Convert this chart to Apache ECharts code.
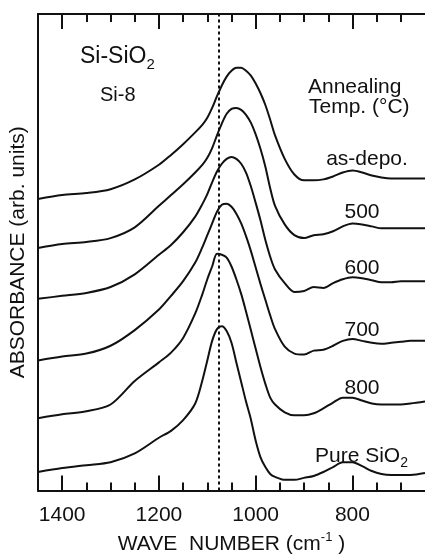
<!DOCTYPE html>
<html><head><meta charset="utf-8">
<script src="https://cdn.jsdelivr.net/npm/echarts@6/dist/echarts.min.js"></script>
<style>html,body{margin:0;padding:0;background:#fff}#c{width:425px;height:560px}</style>
</head><body><div id="c"></div>
<script>
// Wave numbers (cm^-1) at which the spectra were read
const waveNumbers = [1450,1400,1350,1300,1250,1200,1175,1150,1125,1110,1100,1090,1080,1070,1060,1050,1040,1030,1020,1010,1000,990,980,970,960,940,920,900,880,860,840,820,800,780,760,740,720,700,680,650];
// Absorbance (arb. units, stacked with offsets)
const asDepo  = [298,302,304,308,318,333,343,354,366,374,381,391,403,414,423,429,432,432,429,424,416,406,394,379,363,339,323,317,317,318,321,325,327,325,322,320,319,319,319,319];
const ann500  = [248,252,254,258,269,291,302,313,325,333,340,350,363,375,385,390,391,389,384,376,364,349,331,309,291,272,261,258,261,262,265,270,273,272,270,268,268,268,268,268];
const ann600  = [196,199,202,208,221,241,251,264,280,293,303,315,326,334,339,341,339,334,325,311,294,276,256,239,226,212,203,204,208,207,212,216,218,217,215,213,213,214,214,214];
const ann700  = [133,137,140,148,164,185,199,214,233,249,261,273,285,292,293,290,283,273,260,245,228,211,195,179,165,147,140,139,143,144,148,153,155,153,151,150,151,152,153,153];
const ann800  = [74,78,81,88,112,131,141,156,181,201,216,229,242,241,238,229,216,201,183,164,145,126,109,95,88,80,77,77,79,84,90,95,95,92,89,88,88,88,89,91];
const pureSiO2 = [19,23,26,29,38,54,61,72,89,113,133,153,165,168,163,151,131,111,91,73,51,34,24,17,14,11,11,13,15,19,24,29,29,25,20,17,16,16,16,18];
const seriesNames = ['as-depo.','500','600','700','800','Pure SiO2'];
const majorTicks = [1400,1200,1000,800];
const minorTicks = [1350,1300,1250,1150,1100,1050,950,900,850,750,700];
const dottedLineWave = 1077;

const F = '"Liberation Sans", Arial, Helvetica, sans-serif';
const INK = '#111';
const chart = echarts.init(document.getElementById('c'), null, {renderer:'canvas'});
const allSeries = [asDepo, ann500, ann600, ann700, ann800, pureSiO2];

const xBase = {type:'value', min:650, max:1450, inverse:true, splitLine:{show:false}};
const tickMajor = {show:true, inside:true, length:15, customValues:majorTicks, lineStyle:{color:INK, width:2}};
const tickMinor = {show:true, inside:true, length:8, customValues:minorTicks, lineStyle:{color:INK, width:2}};

const series = allSeries.map((arr, k) => ({
  name: seriesNames[k], type:'line', smooth:0.3, showSymbol:false, symbol:'none',
  lineStyle:{color:INK, width:2}, itemStyle:{color:INK},
  data: waveNumbers.map((w,i)=>[w, arr[i]]),
  markLine: k===0 ? {silent:true, symbol:['none','none'], label:{show:false},
    lineStyle:{color:INK, width:2, type:[3,3]}, data:[{xAxis:dottedLineWave}]} : undefined
}));

const txt = (x, y, text, size, align, rich) => ({
  type:'text', x, y, silent:true,
  style:{text, fill:INK, font: size+'px '+F, align: align||'left', verticalAlign:'middle', rich: rich}
});
const subRich = (size) => ({
  m:{fontSize:size, fontFamily:F, color:INK, lineHeight:size+8},
  s:{fontSize:Math.round(size*0.65), fontFamily:F, color:INK, lineHeight:Math.round(size*0.65), verticalAlign:'bottom'}
});

chart.setOption({
  animation:false,
  backgroundColor:'#fff',
  grid:{left:38, top:14, width:389.4, height:487, containLabel:false},
  xAxis:[
    Object.assign({}, xBase, {position:'bottom', axisLine:{show:true, lineStyle:{color:INK, width:2}},
      axisTick:tickMajor,
      axisLabel:{customValues:majorTicks, formatter:(v)=>String(v), color:INK, fontSize:21, fontFamily:F, margin:14},
      name:'{a|WAVE  NUMBER (cm}{b|-1}{a| )}', nameLocation:'middle', nameGap:33,
      nameTextStyle:{rich:{
        a:{fontSize:21, fontFamily:F, color:INK, lineHeight:28},
        b:{fontSize:13, fontFamily:F, color:INK, lineHeight:13, verticalAlign:'top'}
      }}}),
    Object.assign({}, xBase, {position:'bottom', axisLine:{show:false}, axisTick:tickMinor, axisLabel:{show:false}}),
    Object.assign({}, xBase, {position:'top', axisLine:{show:true, lineStyle:{color:INK, width:2}}, axisTick:tickMajor, axisLabel:{show:false}}),
    Object.assign({}, xBase, {position:'top', axisLine:{show:false}, axisTick:tickMinor, axisLabel:{show:false}})
  ],
  yAxis:{type:'value', min:0, max:487, axisLine:{show:true, lineStyle:{color:INK, width:2}},
    axisTick:{show:false}, axisLabel:{show:false}, splitLine:{show:false},
    name:'ABSORBANCE (arb. units)', nameLocation:'middle', nameGap:9,
    nameTextStyle:{fontSize:21, fontFamily:F, color:INK}},
  series: series,
  graphic:[
    txt(80, 57, '{m|Si-SiO}{s|2}', 23, 'left', subRich(23)),
    txt(100, 95, 'Si-8', 20),
    txt(308, 87, 'Annealing', 21),
    txt(309, 107, 'Temp. (°C)', 21),
    txt(367, 159, seriesNames[0], 21, 'center'),
    txt(362, 212, seriesNames[1], 21, 'center'),
    txt(362, 268, seriesNames[2], 21, 'center'),
    txt(362, 330, seriesNames[3], 21, 'center'),
    txt(362, 388, seriesNames[4], 21, 'center'),
    txt(315, 456, '{m|Pure SiO}{s|2}', 21, 'left', subRich(21))
  ]
});
</script></body></html>
